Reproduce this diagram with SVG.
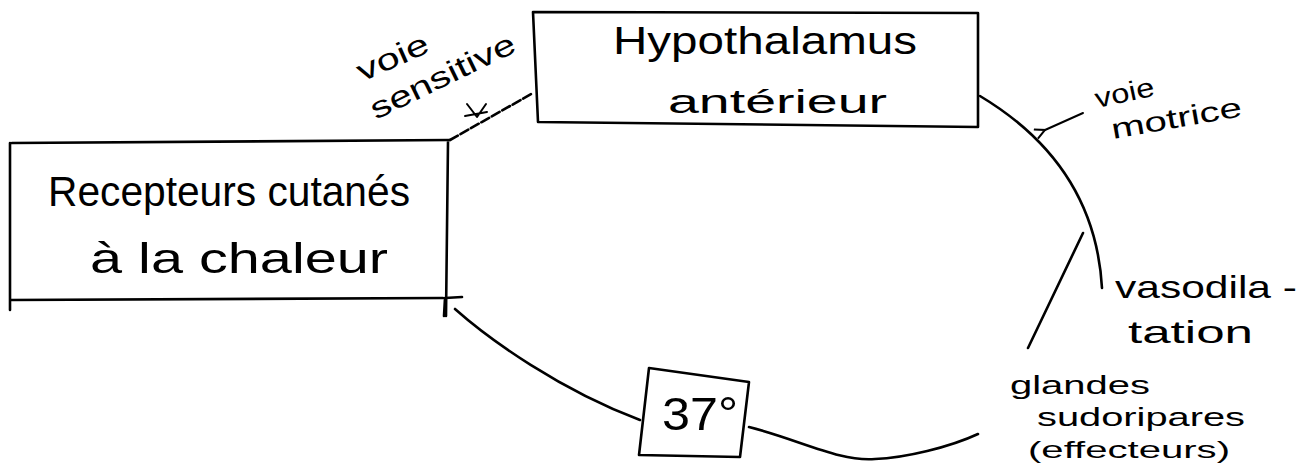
<svg xmlns="http://www.w3.org/2000/svg" width="1306" height="470" viewBox="0 0 1306 470">
<defs>
<style>
.ln{fill:none;stroke:#000;stroke-width:2.6;stroke-linecap:round;stroke-linejoin:round}
.thin{fill:none;stroke:#000;stroke-width:2;stroke-linecap:round;stroke-linejoin:round}
.t{font-family:"Liberation Sans","DejaVu Sans",sans-serif;fill:#000}
</style>
<marker id="open" viewBox="0 0 12 12" refX="1" refY="6" markerWidth="12" markerHeight="12" markerUnits="userSpaceOnUse" orient="auto">
<path d="M11,1 L1,6 L11,11" fill="none" stroke="#000" stroke-width="2"/>
</marker>
</defs>
<rect width="1306" height="470" fill="#fff"/>

<g id="connectors">
<!-- voie sensitive: receptors -> hypothalamus -->
<path class="ln" d="M450,140 L533,93" stroke-dasharray="9 3"/>
<path class="thin" d="M467,104 L477,117 L486,104 M465,116 L487,112"/>
<!-- voie motrice: hypothalamus -> effectors -->
<path class="ln" d="M980,96 Q1095,165 1102,288"/>
<path class="thin" d="M1083,113 L1045,130" marker-end="url(#open)"/>
<!-- branch to glandes -->
<path class="ln" d="M1083,233 L1028,348"/>
<!-- return path via 37° -->
<path class="ln" d="M978,434 C950,447 905,458 875,459 C840,462 800,440 749,427"/>
<path class="ln" d="M640,420 C560,390 490,340 455,309"/>
<path class="ln" d="M444,316 L445,298 L462,297"/>
</g>

<g id="node-recepteurs">
<path class="ln" d="M12,143 L450,140 M10,143 L10,310 M10,300 L443,298 M448,142 L446,316"/>
<text class="t" x="48" y="206" font-size="42" textLength="362" lengthAdjust="spacingAndGlyphs">Recepteurs cutanés</text>
<text class="t" x="90" y="273" font-size="42" textLength="298" lengthAdjust="spacingAndGlyphs">à la chaleur</text>
</g>

<g id="node-hypothalamus">
<path class="ln" d="M533,12 L978,13 L978,127 L538,122 Z"/>
<text class="t" x="613" y="54" font-size="38" textLength="304" lengthAdjust="spacingAndGlyphs">Hypothalamus</text>
<text class="t" x="668" y="113" font-size="34" textLength="219" lengthAdjust="spacingAndGlyphs">antérieur</text>
</g>

<g id="node-37">
<path class="ln" d="M649,368 L749,382 L740,457 L639,455 Z"/>
<text class="t" x="662" y="430" font-size="46" textLength="76" lengthAdjust="spacingAndGlyphs">37°</text>
</g>

<g id="label-voie-sensitive">
<text class="t" font-size="30" textLength="76" lengthAdjust="spacingAndGlyphs" transform="translate(362,82) rotate(-24)">voie</text>
<text class="t" font-size="30" textLength="158" lengthAdjust="spacingAndGlyphs" transform="translate(376,120) rotate(-26)">sensitive</text>
</g>

<g id="label-voie-motrice">
<text class="t" font-size="27" textLength="60" lengthAdjust="spacingAndGlyphs" transform="translate(1097,108) rotate(-12)">voie</text>
<text class="t" font-size="28" textLength="132" lengthAdjust="spacingAndGlyphs" transform="translate(1113,139) rotate(-10)">motrice</text>
</g>

<g id="node-vasodilatation">
<text class="t" x="1115" y="298" font-size="32" textLength="182" lengthAdjust="spacingAndGlyphs">vasodila -</text>
<text class="t" x="1128" y="343" font-size="32" textLength="125" lengthAdjust="spacingAndGlyphs">tation</text>
</g>

<g id="node-glandes">
<text class="t" x="1010" y="394" font-size="26" textLength="140" lengthAdjust="spacingAndGlyphs">glandes</text>
<text class="t" x="1037" y="426" font-size="26" textLength="208" lengthAdjust="spacingAndGlyphs">sudoripares</text>
<text class="t" x="1028" y="458" font-size="24" textLength="202" lengthAdjust="spacingAndGlyphs">(effecteurs)</text>
</g>
</svg>
